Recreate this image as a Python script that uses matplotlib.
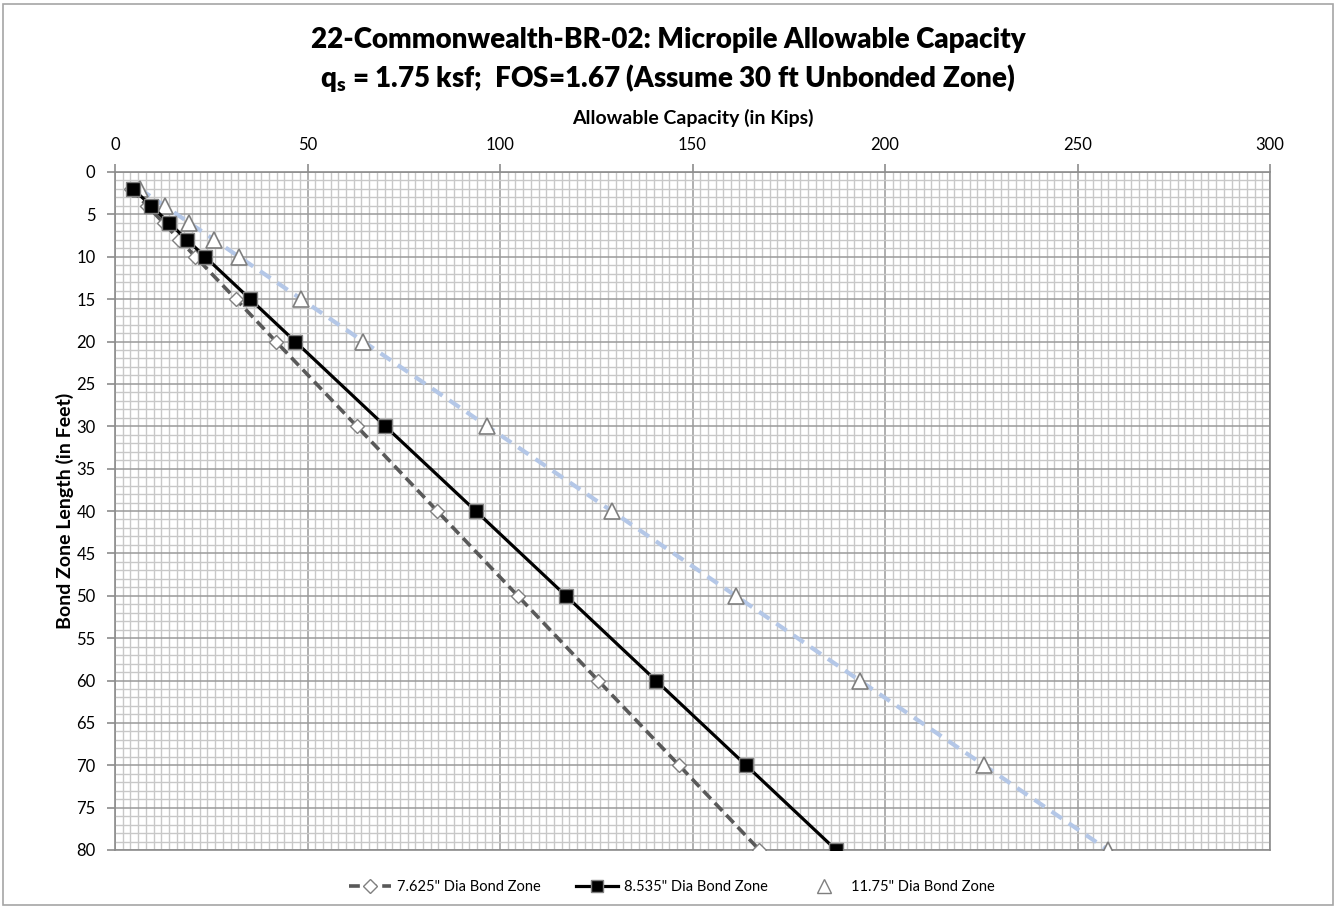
import matplotlib
matplotlib.use("Agg")
import matplotlib.pyplot as plt
from matplotlib.ticker import MultipleLocator
from matplotlib.lines import Line2D
from matplotlib.patches import Rectangle

bond_length = [2, 4, 6, 8, 10, 15, 20, 30, 40, 50, 60, 70, 80]
cap_7625 = [4.2, 8.4, 12.6, 16.7, 20.9, 31.4, 41.8, 62.8, 83.7, 104.6, 125.5, 146.5, 167.4]
cap_8535 = [4.7, 9.4, 14.0, 18.7, 23.4, 35.1, 46.8, 70.2, 93.7, 117.1, 140.5, 163.9, 187.3]
cap_1175 = [6.4, 12.9, 19.3, 25.8, 32.2, 48.4, 64.5, 96.7, 129.0, 161.2, 193.4, 225.7, 257.9]
labels = ['7.625" Dia Bond Zone', '8.535" Dia Bond Zone', '11.75" Dia Bond Zone']

FONT = ['Lato', 'DejaVu Sans']
plt.rcParams['font.family'] = FONT

fig = plt.figure(figsize=(13.36, 9.07), dpi=100)
fig.patches.append(Rectangle((0.002, 0.002), 0.996, 0.994, transform=fig.transFigure,
                             fill=False, edgecolor='#a6a6a6', lw=1.2))
ax = fig.add_axes([115/1336, 1-850/907, (1270-115)/1336, (850-172)/907])

ax.plot(cap_1175, bond_length, linestyle=(0, (3, 2)), color='#b4c7e7', lw=3, zorder=3)
ax.plot(cap_1175, bond_length, linestyle='none', marker='^', ms=11, mfc='white',
        mec='#7f7f7f', mew=1.2, zorder=4)
ax.plot(cap_7625, bond_length, linestyle=(0, (3, 1.6)), color='#595959', lw=2.6,
        marker='D', ms=7.5, mfc='white', mec='#808080', mew=1.0, zorder=5)
ax.plot(cap_8535, bond_length, linestyle='-', color='black', lw=2.3,
        marker='s', ms=10, mfc='black', mec='#808080', mew=1.0, zorder=6)

ax.set_xlim(0, 300)
ax.set_ylim(80, 0)
ax.xaxis.set_major_locator(MultipleLocator(50))
ax.xaxis.set_minor_locator(MultipleLocator(2))
ax.yaxis.set_major_locator(MultipleLocator(5))
ax.yaxis.set_minor_locator(MultipleLocator(1))
ax.xaxis.tick_top()
ax.xaxis.set_label_position('top')
ax.grid(which='minor', color='#c8c8c8', lw=1.0, zorder=0)
ax.grid(which='major', color='#9a9a9a', lw=1.1, zorder=0)
ax.set_axisbelow(True)
for s in ax.spines.values():
    s.set_color('#8c8c8c')
    s.set_linewidth(1.2)
ax.tick_params(which='major', length=6, color='#8c8c8c', width=1.2)
ax.tick_params(which='minor', length=0)
ax.tick_params(axis='x', labelsize=12, pad=8)
ax.tick_params(axis='y', labelsize=12, pad=8)

ax.set_xlabel('Allowable Capacity (in Kips)', fontsize=14, fontweight='bold', labelpad=9)
ax.set_ylabel('Bond Zone Length (in Feet)', fontsize=14, fontweight='bold')
ax.yaxis.set_label_coords((65 - 115) / 1155, 0.5)
ax.yaxis.label.set_va('center')

fig.text(0.5, 1-40/907, '22-Commonwealth-BR-02: Micropile Allowable Capacity',
         ha='center', va='center', fontsize=20, fontweight='heavy')
fig.text(0.5, 1-78/907, r'q$_\mathregular{s}$ = 1.75 ksf;  FOS=1.67 (Assume 30 ft Unbonded Zone)',
         ha='center', va='center', fontsize=20, fontweight='heavy')

handles = [
    Line2D([], [], linestyle=(0, (3, 1.6)), color='#595959', lw=2.6, marker='D', ms=7,
           mfc='white', mec='#808080'),
    Line2D([], [], linestyle='-', color='black', lw=2.3, marker='s', ms=9, mfc='black',
           mec='#808080'),
    Line2D([], [], linestyle='none', marker='^', ms=10, mfc='white', mec='#7f7f7f'),
]
fig.legend(handles, labels, loc='center', bbox_to_anchor=(672/1336, 1-887/907), ncol=3,
           frameon=False, handlelength=2.9, handletextpad=0.4, columnspacing=2.4,
           prop={'family': FONT, 'size': 10.5})

fig.savefig('out.png', dpi=100)
